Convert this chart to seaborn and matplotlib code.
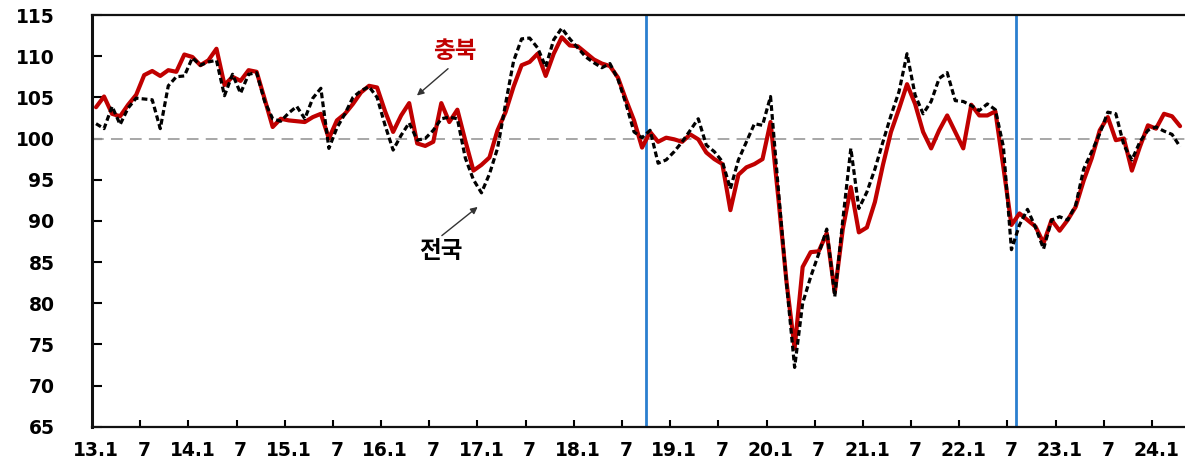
import matplotlib
matplotlib.use('Agg')
import matplotlib.pyplot as plt
import numpy as np
import pandas as pd
import seaborn as sns

# monthly index values, 2013.1 - 2024.4
tick_labels = ['13.1', '7', '14.1', '7', '15.1', '7', '16.1', '7', '17.1', '7',
               '18.1', '7', '19.1', '7', '20.1', '7', '21.1', '7', '22.1', '7',
               '23.1', '7', '24.1']

chungbuk = [103.8, 105.1, 103.0, 102.7, 104.1, 105.3, 107.7, 108.2, 107.6, 108.3,
            108.1, 110.2, 109.9, 108.9, 109.5, 110.9, 106.5, 107.5, 107.0, 108.3,
            108.1, 104.8, 101.4, 102.4, 102.2, 102.1, 102.0, 102.6, 103.0, 100.0,
            102.2, 103.0, 104.2, 105.6, 106.4, 106.2, 103.3, 100.8, 102.8, 104.3,
            99.4, 99.1, 99.6, 104.3, 102.0, 103.5, 99.7, 96.1, 96.8, 97.7,
            101.0, 103.2, 106.3, 108.9, 109.3, 110.3, 107.6, 110.3, 112.3, 111.3,
            111.2, 110.4, 109.6, 109.1, 108.8, 107.4, 104.7, 102.2, 98.9, 100.8,
            99.6, 100.1, 99.9, 99.6, 100.5, 99.9, 98.3, 97.5, 96.9, 91.3,
            95.6, 96.5, 96.9, 97.5, 102.0, 92.5, 82.5, 74.5, 84.4, 86.2,
            86.3, 88.5, 81.3, 89.0, 94.1, 88.6, 89.2, 92.3, 96.8, 100.8,
            103.6, 106.6, 104.2, 100.8, 98.8, 101.0, 102.8, 100.8, 98.8, 104.1,
            102.8, 102.8, 103.3, 96.5, 89.5, 90.9, 90.1, 89.3, 87.3, 90.1,
            88.8, 90.1, 91.7, 94.9, 97.6, 101.0, 102.6, 99.8, 100.0, 96.1,
            99.0, 101.6, 101.2, 103.0, 102.7, 101.5]

national = [101.8, 101.2, 103.9, 101.7, 103.7, 104.9, 104.8, 104.7, 101.2, 106.4,
            107.5, 107.6, 109.8, 108.9, 109.3, 109.5, 105.2, 107.8, 105.5, 107.8,
            108.0, 104.5, 102.4, 102.1, 103.1, 103.9, 102.4, 104.9, 106.1, 98.8,
            101.3, 103.0, 105.0, 105.8, 106.3, 105.0, 101.6, 98.6, 100.4, 101.9,
            99.8, 100.0, 101.0, 102.4, 102.6, 102.4, 97.6, 95.0, 93.4, 95.7,
            98.8, 104.2, 109.4, 112.1, 112.2, 111.0, 108.7, 112.0, 113.4, 112.1,
            111.0, 109.9, 109.2, 108.6, 109.1, 107.2, 104.2, 100.8, 100.1, 101.0,
            97.0, 97.4, 98.4, 99.6, 101.0, 102.4, 99.2, 98.4, 97.2, 93.9,
            97.4, 99.6, 101.8, 101.6, 105.1, 93.5, 82.3, 72.2, 80.0, 83.2,
            86.0, 89.0, 80.8, 90.1, 98.8, 91.5, 93.5, 96.3, 99.6, 102.8,
            105.7, 110.3, 105.3, 103.0, 104.5, 107.3, 108.0, 104.6, 104.5, 104.0,
            103.4, 104.2, 103.5, 99.0, 86.5, 89.5, 91.4, 89.2, 86.6, 90.1,
            90.5, 90.1, 91.9, 96.3, 98.4, 100.6, 103.2, 103.0, 99.2, 97.4,
            99.6, 101.0, 101.4, 100.9, 100.5, 99.0]

marker_months = [68.45, 114.55]  # blue reference lines

df = pd.DataFrame({'idx': np.arange(len(chungbuk)),
                   'chungbuk': chungbuk, 'national': national})

sns.set_style('white')
plt.rcParams['font.family'] = ['DejaVu Sans']

fig = plt.figure(figsize=(11.85, 4.62), dpi=100)
ax = fig.add_axes([92 / 1185, 1 - 426.7 / 462, 1093 / 1185, 411.7 / 462])

ax.axhline(100, color='#A0A0A0', lw=1.3, linestyle=(0, (6.5, 4)), zorder=1)
for m in marker_months:
    ax.axvline(m, color='#2A7FCF', lw=2.0, zorder=1.5)

sns.lineplot(data=df, x='idx', y='chungbuk', color='#C00000', lw=3.0, ax=ax, zorder=3)
sns.lineplot(data=df, x='idx', y='national', color='black', lw=2.3,
             linestyle=(0, (1.8, 1.0)), ax=ax, zorder=4)

ax.set_xlim(-0.5, -0.5 + 1093 / 8.03)
ax.set_ylim(65, 115)
ax.set_xlabel('')
ax.set_ylabel('')

ax.set_yticks(range(65, 116, 5))
ax.set_yticklabels([str(v) for v in range(65, 116, 5)], fontweight='bold', fontsize=13.5)
ax.tick_params(axis='y', left=True, direction='in', length=7, width=1.5, pad=27,
               labelcolor='black', color='black')

ax.set_xticks(range(0, 133, 6))
ax.set_xticklabels(tick_labels, fontweight='bold', fontsize=13.5)
ax.set_xticks(np.arange(5.5, 136, 6), minor=True)
ax.tick_params(axis='x', which='major', bottom=True, length=0, pad=10, labelcolor='black')
ax.tick_params(axis='x', which='minor', bottom=True, direction='in', length=5, width=1.5,
               color='black')

for side in ['left', 'bottom', 'top']:
    ax.spines[side].set_color('#111111')
ax.spines['left'].set_linewidth(2.2)
ax.spines['bottom'].set_linewidth(1.6)
ax.spines['top'].set_linewidth(1.6)
ax.spines['right'].set_visible(False)

# labels with arrows
ax.text(44.7, 110.6, '충북', color='#C00000', fontsize=17, fontweight='bold',
        family=['Noto Sans CJK KR', 'DejaVu Sans'], ha='center', va='center')
ax.annotate('', xy=(39.7, 105.0), xytext=(44.1, 108.7),
            arrowprops=dict(arrowstyle='-|>', color='#333333', lw=1, mutation_scale=10))
ax.text(43.0, 86.3, '전국', color='black', fontsize=17, fontweight='bold',
        family=['Noto Sans CJK KR', 'DejaVu Sans'], ha='center', va='center')
ax.annotate('', xy=(47.8, 91.9), xytext=(42.8, 88.0),
            arrowprops=dict(arrowstyle='-|>', color='#333333', lw=1, mutation_scale=10))

fig.savefig('out.png', dpi=100)
